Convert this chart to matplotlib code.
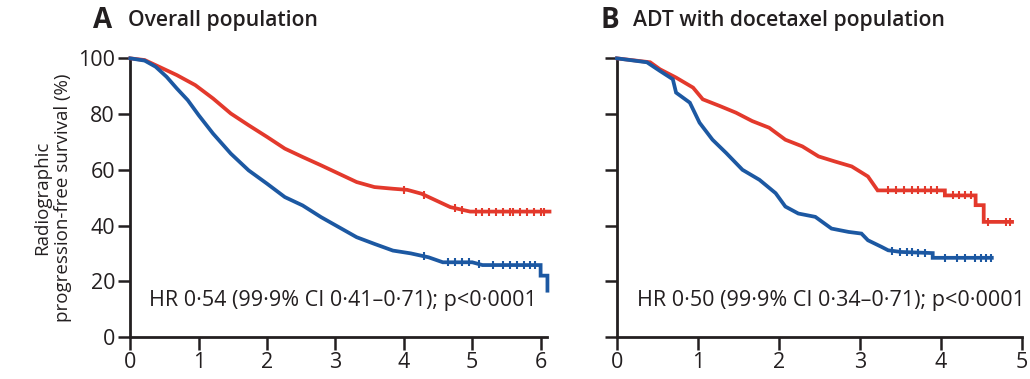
import numpy as np
import matplotlib.pyplot as plt

plt.rcParams['font.family'] = ['Open Sans', 'DejaVu Sans']

RED = '#e3392c'
BLUE = '#1c58a2'
INK = '#231f20'

# Panel A: overall population (years, % free of radiographic progression)
a_red_t = [0, 0.21, 0.42, 0.68, 0.95, 1.21, 1.47, 1.73, 2.0, 2.26, 2.52, 2.79, 3.05,
           3.31, 3.57, 3.84, 4.05, 4.26, 4.47, 4.68, 4.97, 6.13]
a_red_s = [100, 99.4, 97, 94, 90.4, 85.6, 80.2, 76, 71.8, 67.6, 64.6, 61.6, 58.6,
           55.6, 53.8, 53.2, 52.8, 51.4, 49, 46.6, 45, 45]
a_blue_t = [0, 0.21, 0.37, 0.53, 0.68, 0.84, 1.0, 1.21, 1.47, 1.73, 2.0, 2.26, 2.52,
            2.79, 3.05, 3.31, 3.57, 3.84, 4.1, 4.36, 4.57, 5.0, 5.15, 6.0, 6.0, 6.1, 6.1]
a_blue_s = [100, 99.2, 97, 93.4, 89.2, 85, 79.6, 73, 65.8, 59.8, 55, 50.2, 47.2,
            43, 39.4, 35.8, 33.4, 31, 30, 28.6, 26.8, 26.8, 25.8, 25.8, 22, 22, 16.6]
a_red_cens = [4.0, 4.3, 4.75, 4.85, 5.05, 5.15, 5.25, 5.35, 5.45, 5.55, 5.6, 5.7,
              5.8, 5.9, 6.0, 6.05]
a_blue_cens = [4.3, 4.65, 4.75, 4.85, 4.95, 5.1, 5.3, 5.45, 5.55, 5.65, 5.75, 5.85, 5.92]

# Panel B: ADT with docetaxel population
b_red_t = [0, 0.41, 0.53, 0.73, 0.94, 1.06, 1.27, 1.47, 1.67, 1.88, 2.08, 2.29, 2.49,
           2.69, 2.9, 3.1, 3.22, 4.05, 4.05, 4.43, 4.43, 4.53, 4.53, 4.88]
b_red_s = [100, 98.6, 96.1, 93.1, 89.5, 85.3, 82.9, 80.5, 77.5, 75.1, 70.8, 68.4, 64.8,
           63, 61.2, 57.6, 52.6, 52.6, 50.8, 50.8, 47.3, 47.3, 41.3, 41.3]
b_blue_t = [0, 0.37, 0.53, 0.69, 0.73, 0.9, 1.02, 1.18, 1.35, 1.55, 1.76, 1.96, 2.08,
            2.24, 2.45, 2.65, 2.86, 3.02, 3.1, 3.27, 3.35, 3.51, 3.9, 3.9, 4.63]
b_blue_s = [100, 98.6, 95.5, 92.5, 87.7, 84.1, 76.9, 70.8, 66, 60, 56.4, 51.6, 46.8,
            44.3, 43.1, 38.9, 37.7, 37.1, 34.7, 32.3, 31.1, 30.5, 30.1, 28.4, 28.4]
b_red_cens = [3.35, 3.45, 3.55, 3.65, 3.72, 3.8, 3.88, 3.95, 4.15, 4.22, 4.3, 4.37,
              4.58, 4.8, 4.86]
b_blue_cens = [3.4, 3.5, 3.58, 3.65, 3.72, 3.8, 4.05, 4.2, 4.3, 4.42, 4.5, 4.56, 4.62]

hr_a = 'HR 0·54 (99·9% CI 0·41–0·71); p<0·0001'
hr_b = 'HR 0·50 (99·9% CI 0·34–0·71); p<0·0001'


def draw_panel(ax, curves, xmax, xticks, letter, letter_x, title, title_x, hr, hr_x, ylabels):
    for t, s, cens, col in curves:
        ax.plot(t, s, color=col, lw=2.7, solid_joinstyle='miter', clip_on=False, zorder=3)
        cy = np.interp(cens, t, s)
        ax.plot(cens, cy, ls='none', marker='|', ms=5.5, mew=1.5, color=col,
                clip_on=False, zorder=4)
    ax.set_xlim(0, xmax)
    ax.set_ylim(0, 100)
    ax.set_xticks(xticks)
    ax.set_yticks([0, 20, 40, 60, 80, 100])
    if not ylabels:
        ax.set_yticklabels([])
    for side in ('top', 'right'):
        ax.spines[side].set_visible(False)
    for side in ('left', 'bottom'):
        ax.spines[side].set_linewidth(2)
        ax.spines[side].set_color(INK)
    ax.tick_params(length=9, width=1.8, color=INK, labelsize=15.5, labelcolor=INK, pad=2)
    ax.text(hr_x, 13, hr, fontsize=15.5, color=INK, va='center', ha='left')
    ax.text(letter_x, 1.135, letter, transform=ax.transAxes, fontsize=20,
            fontweight='bold', color=INK, va='center')
    ax.text(title_x, 1.135, title, transform=ax.transAxes,
            fontsize=15.2, fontweight='semibold', color=INK, va='center')


fig = plt.figure(figsize=(10.30, 3.79), dpi=100)
ax_a = fig.add_axes([0.1265, 0.111, 0.405, 0.735])
ax_b = fig.add_axes([0.599, 0.111, 0.393, 0.735])

draw_panel(ax_a, [(a_red_t, a_red_s, a_red_cens, RED),
                  (a_blue_t, a_blue_s, a_blue_cens, BLUE)],
           6.1, range(7), 'A', -0.09, 'Overall population', -0.005, hr_a, 0.27, True)
draw_panel(ax_b, [(b_red_t, b_red_s, b_red_cens, RED),
                  (b_blue_t, b_blue_s, b_blue_cens, BLUE)],
           5, range(6), 'B', -0.04, 'ADT with docetaxel population', 0.04, hr_b, 0.25, False)

ax_a.set_ylabel('Radiographic\nprogression-free survival (%)', fontsize=13.5,
                color=INK, labelpad=4, linespacing=1.25)

fig.savefig('out.png', dpi=100)
